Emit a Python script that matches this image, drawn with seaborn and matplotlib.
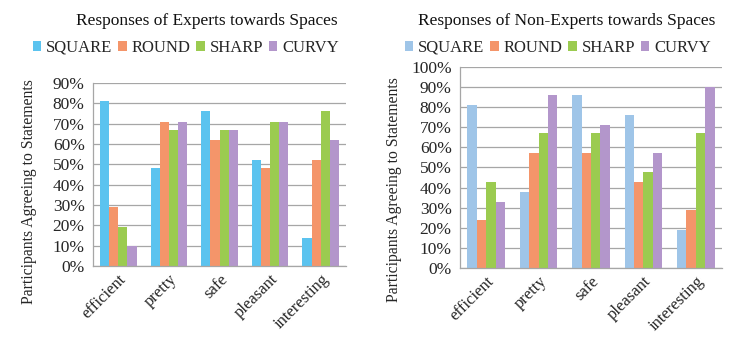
import numpy as np
import pandas as pd
import matplotlib
matplotlib.use("Agg")
import matplotlib.pyplot as plt
import seaborn as sns
from matplotlib.patches import Patch

categories = ["efficient", "pretty", "safe", "pleasant", "interesting"]
shapes = ["SQUARE", "ROUND", "SHARP", "CURVY"]

experts_square = [81, 48, 76, 52, 14]
experts_round = [29, 71, 62, 48, 52]
experts_sharp = [19, 67, 67, 71, 76]
experts_curvy = [10, 71, 67, 71, 62]

nonexp_square = [81, 38, 86, 76, 19]
nonexp_round = [24, 57, 57, 43, 29]
nonexp_sharp = [43, 67, 67, 48, 67]
nonexp_curvy = [33, 86, 71, 57, 90]

titles = ["Responses of Experts towards Spaces", "Responses of Non-Experts towards Spaces"]
ylabel = "Participants Agreeing to Statements"

pal_left = ["#5BC3EF", "#F4956A", "#9BCB50", "#B396CB"]
pal_right = ["#9FC5E8", "#F4956A", "#9BCB50", "#B396CB"]


def make_df(sq, ro, sh, cu):
    rows = []
    for s, vals in zip(shapes, [sq, ro, sh, cu]):
        for c, v in zip(categories, vals):
            rows.append({"cat": c, "shape": s, "val": v / 100.0})
    return pd.DataFrame(rows)


df_l = make_df(experts_square, experts_round, experts_sharp, experts_curvy)
df_r = make_df(nonexp_square, nonexp_round, nonexp_sharp, nonexp_curvy)

sns.set_style("white")
plt.rcParams["font.family"] = ["Liberation Serif", "DejaVu Serif"]
text_col = "#262626"
grid_col = "#A6A6A6"

fig = plt.figure(figsize=(7.46, 3.42), dpi=100)
ax_l = fig.add_axes([93 / 746, 1 - 266 / 342, (346 - 93) / 746, (266 - 83) / 342])
ax_r = fig.add_axes([460 / 746, 1 - 268 / 342, (722 - 460) / 746, (268 - 67) / 342])


def style(ax, df, pal, ymax, title, tx, lx, ylab_x, ylab_y):
    sns.barplot(data=df, x="cat", y="val", hue="shape", hue_order=shapes,
                order=categories, palette=pal, width=0.72, ax=ax,
                legend=False, saturation=1, linewidth=0)
    ax.set_ylim(0, ymax)
    ax.set_xlim(-0.5, len(categories) - 0.5)
    ticks = np.arange(0, ymax + 0.001, 0.1)
    ax.set_yticks(ticks)
    ax.set_yticklabels([f"{int(round(t * 100))}%" for t in ticks], fontsize=12.5, color=text_col)
    ax.yaxis.grid(True, color=grid_col, linewidth=0.9)
    ax.set_axisbelow(True)
    ax.set_xticks(np.arange(len(categories)))
    ax.set_xticklabels(categories, rotation=45, ha="right", rotation_mode="anchor",
                       fontsize=12, color=text_col)
    ax.tick_params(axis="x", length=0, pad=4)
    ax.set_xticks(np.arange(-0.5, len(categories)), minor=True)
    ax.tick_params(axis="x", which="minor", length=5, color=grid_col, direction="out")
    ax.tick_params(axis="y", length=4, color=grid_col, direction="out", pad=2)
    ax.set_xlabel("")
    ax.set_ylabel(ylabel, fontsize=11.3, color=text_col)
    inv = ax.transAxes.inverted()
    xa, ya = inv.transform(fig.transFigure.transform((ylab_x / 746, 1 - ylab_y / 342)))
    ax.yaxis.set_label_coords(xa, ya)
    for s in ["top", "right"]:
        ax.spines[s].set_visible(False)
    for s in ["left", "bottom"]:
        ax.spines[s].set_color(grid_col)
        ax.spines[s].set_linewidth(0.9)
    fig.text(tx, 1 - 21 / 342, title, ha="center", va="center", fontsize=12.5,
             color="#111111")
    handles = [Patch(facecolor=c, edgecolor="none") for c in pal]
    fig.legend(handles, shapes, loc="center", bbox_to_anchor=(lx, 1 - 48 / 342),
               ncol=4, frameon=False, fontsize=12, handlelength=0.5,
               handleheight=0.5, handletextpad=0.3, columnspacing=0.35,
               labelcolor=text_col)


style(ax_l, df_l, pal_left, 0.9, titles[0], 207 / 746, 186 / 746, 37, 192)
style(ax_r, df_r, pal_right, 1.0, titles[1], 567 / 746, 558 / 746, 402, 190)

fig.savefig("out.png", dpi=100)
